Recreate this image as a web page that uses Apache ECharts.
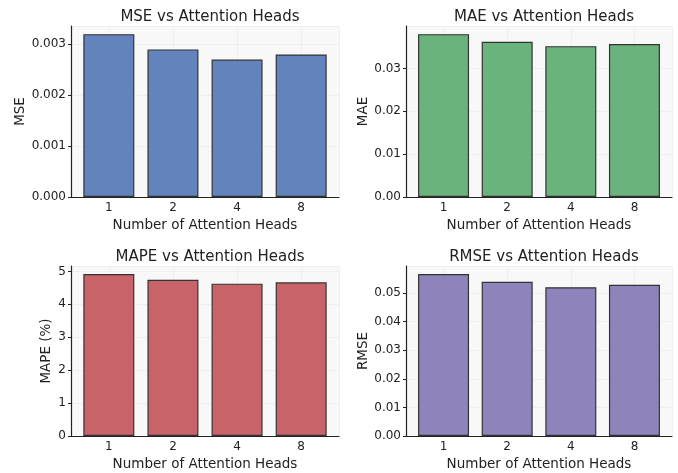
<!DOCTYPE html>
<html>
<head>
<meta charset="utf-8">
<script src="https://cdn.jsdelivr.net/npm/echarts@6/dist/echarts.min.js"></script>
<style>
html,body{margin:0;padding:0;background:#fff;}
#c{width:678px;height:473px;}
</style>
</head>
<body>
<div id="c"></div>
<script>
const heads = ['1', '2', '4', '8'];
const mseValues = [0.0032, 0.0029, 0.0027, 0.0028];
const maeValues = [0.0380, 0.0362, 0.0352, 0.0357];
const mapeValues = [4.92, 4.75, 4.63, 4.67];
const rmseValues = [0.0566, 0.0539, 0.0520, 0.0529];
const titles = ['MSE vs Attention Heads', 'MAE vs Attention Heads', 'MAPE vs Attention Heads', 'RMSE vs Attention Heads'];
const yNames = ['MSE', 'MAE', 'MAPE (%)', 'RMSE'];
const xName = 'Number of Attention Heads';

const FONT = 'DejaVu Sans';
const panels = [
  {vals: mseValues, color: '#6283bb', interval: 0.001, dec: 3, grid: {left: 71, top: 26, width: 268, height: 171}, nameGap: 42},
  {vals: maeValues, color: '#6bb37d', interval: 0.01, dec: 2, grid: {left: 406, top: 26, width: 266, height: 171}, nameGap: 35},
  {vals: mapeValues, color: '#c9636a', interval: 1, dec: 0, grid: {left: 71, top: 266, width: 268, height: 170}, nameGap: 18},
  {vals: rmseValues, color: '#8f83bc', interval: 0.01, dec: 2, grid: {left: 406, top: 266, width: 266, height: 170}, nameGap: 35}
];

const option = {
  animation: false,
  backgroundColor: '#ffffff',
  title: [], grid: [], xAxis: [], yAxis: [], series: []
};

panels.forEach((p, i) => {
  option.grid.push(Object.assign({show: true, backgroundColor: '#f8f8f8', borderWidth: 0, containLabel: false}, p.grid));
  option.title.push({
    text: titles[i],
    left: p.grid.left + p.grid.width / 2,
    top: p.grid.top - 21,
    textAlign: 'center',
    textStyle: {fontFamily: FONT, fontSize: 15, fontWeight: 'normal', color: '#222'}
  });
  option.xAxis.push({
    type: 'value', gridIndex: i, min: -0.59, max: 3.59, minInterval: 1, maxInterval: 1,
    name: xName, nameLocation: 'middle', nameGap: 21,
    nameTextStyle: {fontFamily: FONT, fontSize: 13.5, color: '#222'},
    axisLine: {show: true, onZero: false, lineStyle: {color: '#222', width: 1.2}},
    axisTick: {show: false},
    axisLabel: {
      fontFamily: FONT, fontSize: 12, color: '#222', margin: 5,
      formatter: v => (Number.isInteger(v) && heads[v] !== undefined) ? heads[v] : ''
    },
    splitLine: {show: true, lineStyle: {color: '#ececec', width: 0.8}}
  });
  const yMax = Math.max(...p.vals) * 1.05;
  option.yAxis.push({
    type: 'value', gridIndex: i, min: 0, max: yMax, interval: p.interval,
    name: yNames[i], nameLocation: 'middle', nameGap: p.nameGap,
    nameTextStyle: {fontFamily: FONT, fontSize: 13.5, color: '#222'},
    axisLine: {show: true, onZero: false, lineStyle: {color: '#222', width: 1.2}},
    axisTick: {show: true, length: 3, lineStyle: {color: '#222'}},
    axisLabel: {
      fontFamily: FONT, fontSize: 12, color: '#222', margin: 5, showMaxLabel: false,
      formatter: v => v.toFixed(p.dec)
    },
    splitLine: {show: true, lineStyle: {color: '#ececec', width: 0.8}}
  });
  option.series.push({
    type: 'bar', xAxisIndex: i, yAxisIndex: i,
    data: p.vals.map((v, k) => [k, v]),
    barWidth: 51,
    itemStyle: {color: p.color, borderColor: '#333', borderWidth: 1.2}
  });
});

const chart = echarts.init(document.getElementById('c'), null, {renderer: 'canvas'});
chart.setOption(option);
</script>
</body>
</html>
